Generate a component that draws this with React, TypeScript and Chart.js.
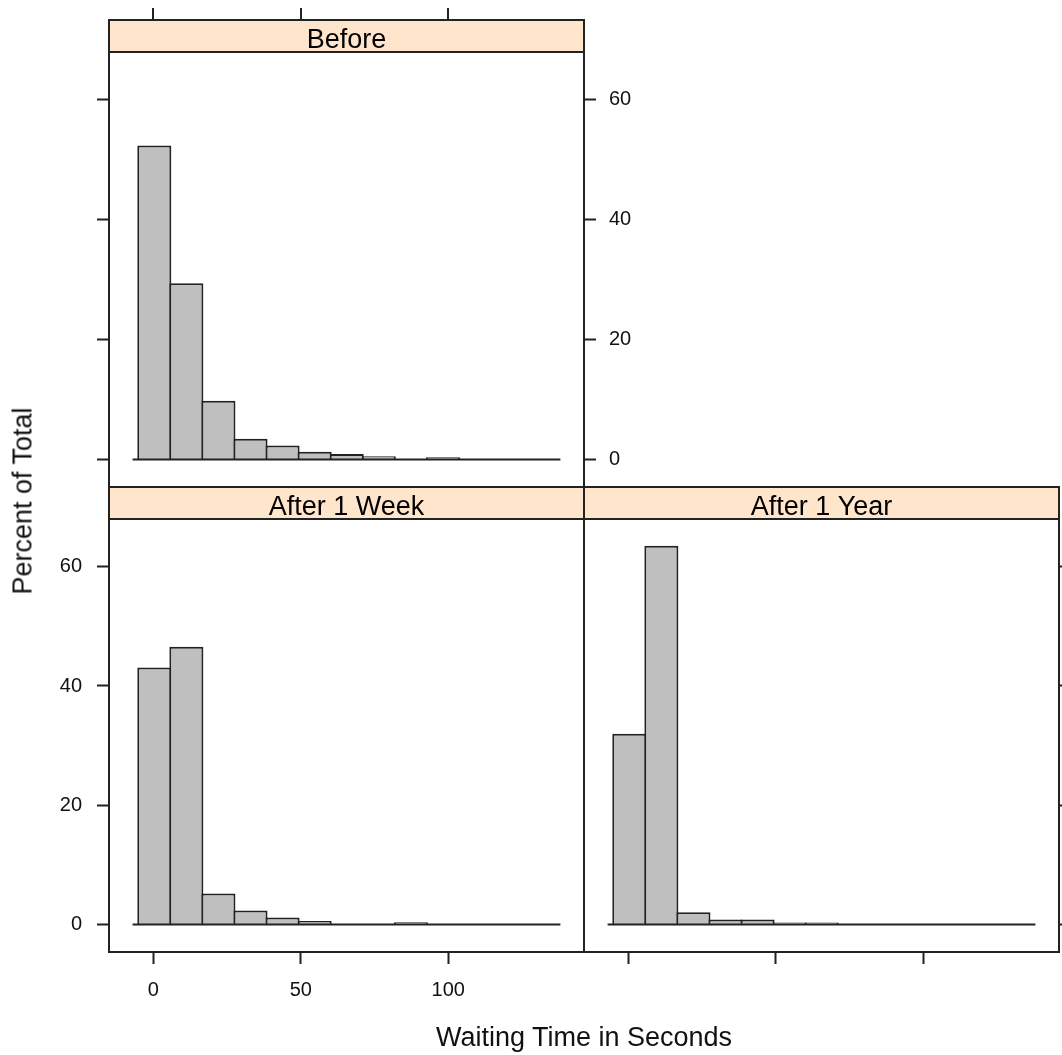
import React, { useEffect, useRef } from "react";
import { Chart, registerables } from "chart.js";

Chart.register(...registerables);

// ---------- data ----------
const binEdges = [-5.08, 5.79, 16.66, 27.53, 38.4, 49.27, 60.14, 71.01, 81.88, 92.75, 103.62, 114.49, 125.36, 136.23];
const beforePct = [52.4, 29.4, 9.8, 3.45, 2.34, 1.27, 0.89, 0.55, 0, 0.35, 0, 0, 0];
const week1Pct = [43.1, 46.6, 5.2, 2.35, 1.17, 0.6, 0, 0, 0.38, 0, 0, 0, 0];
const year1Pct = [32.0, 63.5, 2.05, 0.83, 0.83, 0.35, 0.35, 0, 0, 0, 0, 0, 0];
const panelNames = ["Before", "After 1 Week", "After 1 Year"];
const xTickValues = [0, 50, 100];
const yTickValues = [0, 20, 40, 60];
const xLimits = [-15, 146];
const yLimits = [-4.6, 68];
const baselineX = [-7, 138];
const xTitle = "Waiting Time in Seconds";
const yTitle = "Percent of Total";

// ---------- style ----------
const W = 1062;
const H = 1055;
const FONT = "'Liberation Sans', Arial, sans-serif";
const LINE = "#222222";
const BAR_FILL = "#bfbfbf";
const STRIP_FILL = "#ffe5cc";
const TICK_LEN = 12;
const STRIP_H = 32;

type Side = { ticks: boolean; labels: boolean; size: number };
type Area = { left: number; right: number; top: number; bottom: number };
type PanelCfg = {
  name: string;
  values: number[];
  area: Area;
  left: Side;
  right: Side;
  bottom: Side;
  topTicks: boolean;
};

const panels: PanelCfg[] = [
  {
    name: panelNames[0],
    values: beforePct,
    area: { left: 109, right: 584, top: 52, bottom: 487 },
    left: { ticks: true, labels: false, size: 13 },
    right: { ticks: true, labels: true, size: 60 },
    bottom: { ticks: false, labels: false, size: 1 },
    topTicks: true,
  },
  {
    name: panelNames[1],
    values: week1Pct,
    area: { left: 109, right: 584, top: 519, bottom: 952 },
    left: { ticks: true, labels: true, size: 60 },
    right: { ticks: false, labels: false, size: 1 },
    bottom: { ticks: true, labels: true, size: 60 },
    topTicks: false,
  },
  {
    name: panelNames[2],
    values: year1Pct,
    area: { left: 584, right: 1059, top: 519, bottom: 952 },
    left: { ticks: false, labels: false, size: 1 },
    right: { ticks: true, labels: false, size: 3 },
    bottom: { ticks: true, labels: false, size: 13 },
    topTicks: false,
  },
];

const stripPlugin = {
  id: "strip",
  afterDraw(chart: any, _args: any, opts: any) {
    const { ctx, chartArea, scales } = chart;
    const top = chartArea.top - STRIP_H;
    ctx.save();
    ctx.fillStyle = STRIP_FILL;
    ctx.fillRect(chartArea.left, top, chartArea.right - chartArea.left, STRIP_H);
    ctx.strokeStyle = LINE;
    ctx.lineWidth = 2;
    ctx.strokeRect(chartArea.left, top, chartArea.right - chartArea.left, STRIP_H);
    ctx.fillStyle = "#000";
    ctx.font = `27px ${FONT}`;
    ctx.textAlign = "center";
    ctx.textBaseline = "alphabetic";
    ctx.fillText(opts.label, (chartArea.left + chartArea.right) / 2, top + 27.5);
    if (opts.topTicks) {
      ctx.beginPath();
      for (const v of xTickValues) {
        const px = Math.round(scales.x.getPixelForValue(v));
        ctx.moveTo(px, top);
        ctx.lineTo(px, top - TICK_LEN);
      }
      ctx.stroke();
    }
    ctx.restore();
  },
};

function yAxis(position: string, side: Side) {
  return {
    type: "linear",
    axis: "y",
    position,
    min: yLimits[0],
    max: yLimits[1],
    afterBuildTicks: (s: any) => {
      s.ticks = yTickValues.map((v) => ({ value: v }));
    },
    afterFit: (s: any) => {
      s.width = side.size;
    },
    grid: {
      display: true,
      drawOnChartArea: false,
      drawTicks: side.ticks,
      tickLength: TICK_LEN,
      tickWidth: 2,
      tickColor: LINE,
    },
    border: { display: true, color: LINE, width: 2 },
    ticks: {
      display: side.labels,
      autoSkip: false,
      padding: position === "left" ? 15 : 13,
      color: "#111",
      font: { family: FONT, size: 20 },
      callback: (v: any) => (side.labels ? String(v) : ""),
    },
  };
}

function xAxis(side: Side) {
  return {
    type: "linear",
    axis: "x",
    position: "bottom",
    min: xLimits[0],
    max: xLimits[1],
    offset: false,
    afterBuildTicks: (s: any) => {
      s.ticks = xTickValues.map((v) => ({ value: v }));
    },
    afterFit: (s: any) => {
      s.height = side.size;
    },
    grid: {
      display: true,
      offset: false,
      drawOnChartArea: false,
      drawTicks: side.ticks,
      tickLength: TICK_LEN,
      tickWidth: 2,
      tickColor: LINE,
    },
    border: { display: true, color: LINE, width: 2 },
    ticks: {
      display: side.labels,
      autoSkip: false,
      maxRotation: 0,
      padding: 14,
      color: "#111",
      font: { family: FONT, size: 20 },
      callback: (v: any) => (side.labels ? String(v) : ""),
    },
  };
}

function Panel({ cfg }: { cfg: PanelCfg }) {
  const ref = useRef<HTMLCanvasElement | null>(null);
  useEffect(() => {
    if (!ref.current) return;
    const a = cfg.area;
    const chart = new Chart(ref.current, {
      type: "bar",
      data: {
        datasets: [
          {
            type: "bar",
            data: cfg.values.map((v, i) => ({ x: (binEdges[i] + binEdges[i + 1]) / 2, y: v })),
            backgroundColor: BAR_FILL,
            borderColor: LINE,
            borderWidth: 2,
            borderSkipped: "start",
            barPercentage: 1.062,
            categoryPercentage: 1,
            inflateAmount: 0,
            order: 1,
            xAxisID: "x",
            yAxisID: "y",
          } as any,
          {
            type: "line",
            data: baselineX.map((x) => ({ x, y: 0 })),
            borderColor: LINE,
            borderWidth: 2,
            pointRadius: 0,
            fill: false,
            order: 0,
            xAxisID: "x",
            yAxisID: "y",
          } as any,
        ],
      },
      options: {
        responsive: false,
        animation: false,
        events: [],
        layout: {
          padding: {
            left: a.left - cfg.left.size,
            right: W - a.right - cfg.right.size,
            top: a.top,
            bottom: H - a.bottom - cfg.bottom.size,
          },
        },
        scales: {
          x: xAxis(cfg.bottom),
          y: yAxis("left", cfg.left),
          yR: yAxis("right", cfg.right),
        } as any,
        plugins: {
          legend: { display: false },
          tooltip: { enabled: false },
          title: { display: false },
          strip: { label: cfg.name, topTicks: cfg.topTicks },
        } as any,
      },
      plugins: [stripPlugin as any],
    });
    return () => chart.destroy();
  }, [cfg]);
  return (
    <canvas
      ref={ref}
      width={W}
      height={H}
      style={{ position: "absolute", left: 0, top: 0, width: W, height: H }}
    />
  );
}

export default function App() {
  return (
    <div
      style={{
        position: "absolute",
        left: 0,
        top: 0,
        width: W,
        height: H,
        background: "#fff",
        overflow: "hidden",
        fontFamily: FONT,
        color: "#111",
      }}
    >
      {panels.map((p) => (
        <Panel key={p.name} cfg={p} />
      ))}
      <div
        style={{
          position: "absolute",
          left: 584,
          top: 1037,
          transform: "translate(-50%, -50%)",
          fontSize: 27,
          whiteSpace: "nowrap",
          lineHeight: 1,
        }}
      >
        {xTitle}
      </div>
      <div
        style={{
          position: "absolute",
          left: 23,
          top: 501,
          transform: "translate(-50%, -50%) rotate(-90deg)",
          fontSize: 27,
          whiteSpace: "nowrap",
          lineHeight: 1,
        }}
      >
        {yTitle}
      </div>
    </div>
  );
}
